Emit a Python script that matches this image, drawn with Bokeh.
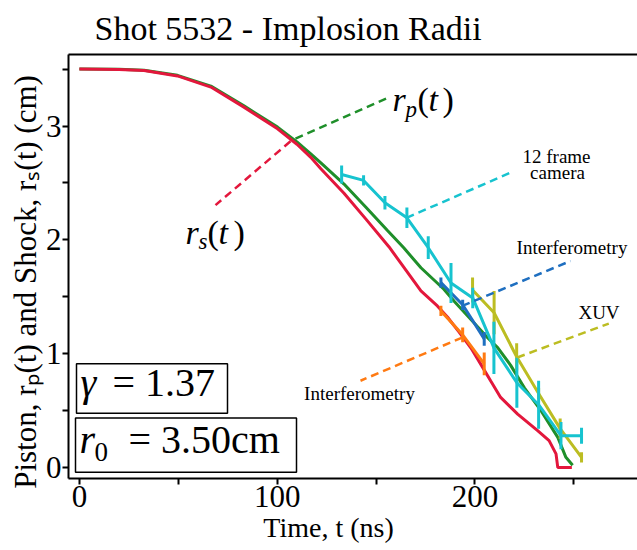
import numpy as np
from bokeh.plotting import figure
from bokeh.models import Range1d, FixedTicker, LinearAxis
from bokeh.embed import file_html
from bokeh.resources import INLINE
from bokeh.core.properties import value

# ---------------- data ----------------
t_piston = [0, 20, 32.7, 49.6, 66.5, 83, 100.2, 110, 117, 122.1, 133.8, 145, 155.9, 164,
            172.7, 184.3, 189.5, 198, 206.4, 211.5, 218, 225, 233.4, 241.9, 246, 249.4]
r_piston = [3.50, 3.498, 3.49, 3.445, 3.35, 3.18, 2.99, 2.86, 2.755, 2.676, 2.49, 2.285, 2.08, 1.93,
            1.755, 1.566, 1.46, 1.30, 1.14, 1.054, 0.90, 0.70, 0.50, 0.265, 0.09, 0.02]

t_shock = [0, 20, 32.7, 49.6, 66.5, 83, 100.2, 110, 117, 122.1, 133.8, 145, 156.5, 164,
           172.7, 181, 186.2, 192, 198, 203.9, 208, 213, 221.6, 231.7, 237.5, 241, 241.9, 249]
r_shock = [3.50, 3.497, 3.487, 3.44, 3.342, 3.168, 2.975, 2.84, 2.725, 2.625, 2.41, 2.18, 1.94, 1.76,
           1.551, 1.42, 1.32, 1.19, 1.05, 0.88, 0.76, 0.616, 0.47, 0.324, 0.237, 0.12, 0.0, 0.0]

t_cam = [132.6, 143.7, 154.5, 165.6, 176.4, 187.9, 198.9, 209.6, 221.2, 232.2, 243.5, 253.9]
r_cam = [2.574, 2.522, 2.326, 2.194, 1.931, 1.621, 1.490, 1.051, 0.745, 0.552, 0.280, 0.280]
e_cam = [0.08, 0.045, 0.06, 0.09, 0.10, 0.175, 0.09, 0.23, 0.22, 0.21, 0.12, 0.07]

t_xuv = [198.8, 209.7, 221.1, 232.2, 243.1, 253.9]
r_xuv = [1.56, 1.36, 0.973, 0.65, 0.342, 0.09]
e_xuv = [0.11, 0.19, 0.12, 0.05, 0.09, 0.045]

t_int_a = [182.8, 193.8, 204.7]
r_int_a = [1.624, 1.43, 1.13]
e_int_a = [0.045, 0.045, 0.06]

t_int_b = [182.8, 193.8, 204.7]
r_int_b = [1.376, 1.166, 0.911]
e_int_b = [0.045, 0.065, 0.10]

x_ticks = [0, 100, 200]
x_minor = [50, 150, 250]
y_ticks = [0, 1, 2, 3]
y_minor = [0.5, 1.5, 2.5, 3.5]

TITLE = "Shot 5532 - Implosion Radii"

# ---------------- styling ----------------
SERIF = "Liberation Serif"
C_RED = "#e3173c"
C_GREEN = "#1f8f2a"
C_CYAN = "#17c3cf"
C_OLIVE = "#bcbd22"
C_ORANGE = "#ff7a12"
C_BLUE = "#1f6fc0"

XMIN, XMAX = -5.5, 282.2
YMIN, YMAX = -0.096, 3.628
FL, FR, FT, FB = 68, 637, 53, 478


def tx(px):
    return XMIN + (px - FL) * (XMAX - XMIN) / (FR - FL)


def ry(py):
    return YMAX - (py - FT) * (YMAX - YMIN) / (FB - FT)


p = figure(width=637, height=550, x_range=Range1d(XMIN, XMAX), y_range=Range1d(YMIN, YMAX),
           output_backend="svg", toolbar_location=None,
           min_border_left=FL, min_border_right=0, min_border_top=FT, min_border_bottom=550 - FB)
p.title.text = TITLE
p.title.text_font = SERIF
p.title.text_font_size = "34px"
p.title.text_font_style = "normal"
p.title.text_color = "black"
p.title.align = "left"
p.title.offset = 26
p.title.standoff = 15
p.grid.visible = False
p.outline_line_color = None
p.background_fill_color = "white"
p.border_fill_color = "white"

p.xaxis.ticker = FixedTicker(ticks=x_ticks, minor_ticks=x_minor)
p.yaxis.ticker = FixedTicker(ticks=y_ticks, minor_ticks=y_minor)
NB = "\u00a0"
p.xaxis.axis_label = "Time, t (ns)" + NB * 7
p.yaxis.axis_label = "Piston, r\u209a(t) and Shock, r\u209b(t) (cm)" + NB * 4
for ax in (p.xaxis, p.yaxis):
    ax.axis_line_width = 2
    ax.axis_line_color = "black"
    ax.major_tick_line_width = 2
    ax.minor_tick_line_width = 2
    ax.major_tick_in = 0
    ax.major_tick_out = 6
    ax.minor_tick_in = 0
    ax.minor_tick_out = 6
    ax.major_label_text_font = SERIF
    ax.major_label_text_font_size = "31px"
    ax.major_label_text_color = "black"
    ax.axis_label_text_font = SERIF
    ax.axis_label_text_font_style = "normal"
    ax.axis_label_text_color = "black"
    ax.major_label_standoff = 1
    ax.axis_label_standoff = 2
p.xaxis.axis_label_text_font_size = "28px"
p.yaxis.axis_label_text_font_size = "31px"
p.yaxis.axis_label_standoff = 0

top = LinearAxis(ticker=FixedTicker(ticks=[]), axis_line_width=2, axis_line_color="black",
                 major_tick_out=0, minor_tick_out=0, major_label_text_font_size="0px")
p.add_layout(top, "above")

# ---------------- curves ----------------
LW = 3
p.line(t_piston, r_piston, line_color=C_GREEN, line_width=LW)
p.line(t_shock, r_shock, line_color=C_RED, line_width=LW)


def series(t, r, e, color):
    t = np.array(t); r = np.array(r); e = np.array(e)
    p.line(t, r, line_color=color, line_width=LW)
    p.segment(x0=t, y0=r - e, x1=t, y1=r + e, line_color=color, line_width=LW)


series(t_int_b, r_int_b, e_int_b, C_ORANGE)
series(t_int_a, r_int_a, e_int_a, C_BLUE)
series(t_xuv, r_xuv, e_xuv, C_OLIVE)
series(t_cam, r_cam, e_cam, C_CYAN)

# ---------------- leaders ----------------
DASH = "8 5"


def leader(p0, p1, color):
    p.line([tx(p0[0]), tx(p1[0])], [ry(p0[1]), ry(p1[1])], line_color=color,
           line_width=2.5, line_dash=DASH)


leader((295, 137.3), (386.7, 96.7), C_GREEN)
leader((290, 140), (215, 204), C_RED)
leader((406, 216.7), (513.3, 170), C_CYAN)
leader((461.7, 305), (570, 260), C_BLUE)
leader((461.7, 336.7), (360, 380), C_ORANGE)
leader((516.7, 356.7), (608.3, 322.7), C_OLIVE)


# ---------------- labels ----------------
def txt(px, py, s, size, style="normal", align="left", baseline="alphabetic"):
    if baseline == "alphabetic":
        py = py - 0.35 * float(size.replace("px", ""))
    p.text(x=[tx(px)], y=[ry(py)], text=[s], text_font=value(SERIF), text_font_size=size,
           text_font_style=style, text_align=align, text_baseline=baseline, text_color="black")


def math_label(px, py, parts):
    # parts: (text, style, size, dx, dy)
    for s, style, size, dx, dy in parts:
        txt(px + dx, py + dy, s, size, style)


math_label(392, 110, [("r", "italic", "34px", 0, 0), ("p", "italic", "23px", 13, 6),
                      ("(", "normal", "34px", 25, 0), ("t", "italic", "34px", 36, 0),
                      (")", "normal", "34px", 50, 0)])
math_label(185, 243, [("r", "italic", "34px", 0, 0), ("s", "italic", "23px", 13, 5),
                      ("(", "normal", "34px", 22, 0), ("t", "italic", "34px", 33, 0),
                      (")", "normal", "34px", 48, 0)])

txt(556, 155, "12 frame", "19px", align="center", baseline="middle")
txt(557, 171.7, "camera", "19px", align="center", baseline="middle")
txt(571.5, 246.7, "Interferometry", "19px", align="center", baseline="middle")
txt(359, 392.3, "Interferometry", "19px", align="center", baseline="middle")
txt(598.5, 311.7, "XUV", "19px", align="center", baseline="middle")

# boxes
p.quad(left=[tx(76)], right=[tx(227)], top=[ry(363)], bottom=[ry(412.7)],
       fill_color="white", line_color="black", line_width=1.5)
p.quad(left=[tx(75)], right=[tx(296)], top=[ry(417.3)], bottom=[ry(471.7)],
       fill_color="white", line_color="black", line_width=1.5)
txt(80, 396, "\u03b3", "40px", style="italic")
txt(112, 396, "= 1.37", "40px")
txt(79, 453, "r", "40px", style="italic")
txt(94, 461, "0", "27px")
txt(128, 453, "= 3.50cm", "40px")

open("out.html", "w").write(file_html(p, INLINE))
